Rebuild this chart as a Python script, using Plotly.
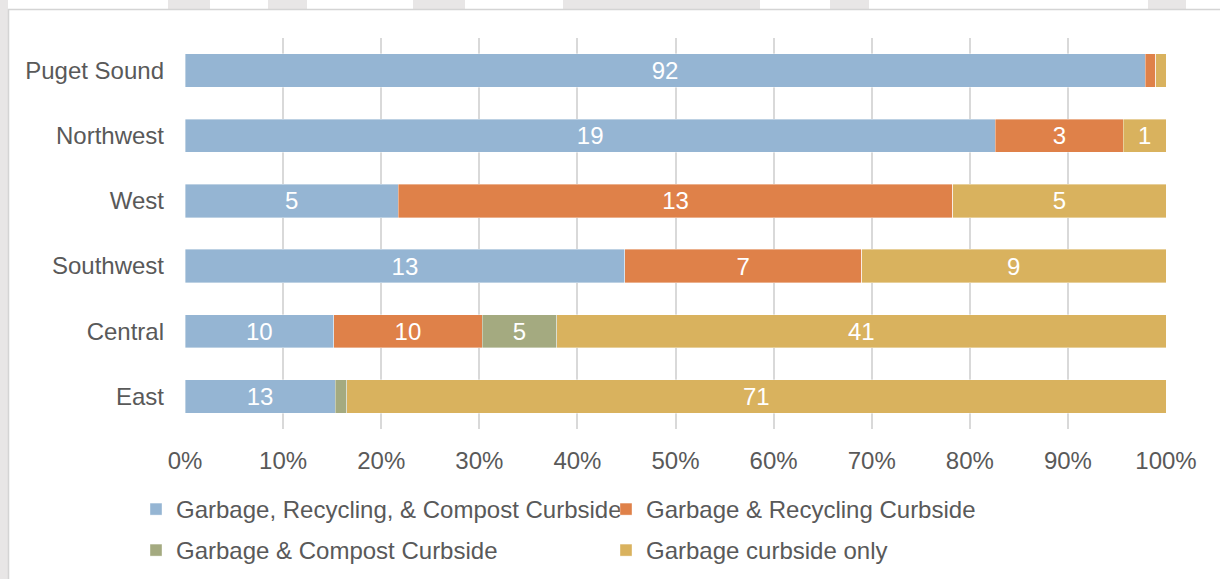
import plotly.graph_objects as go

# ---- data ----
regions = ["Puget Sound", "Northwest", "West", "Southwest", "Central", "East"]
series_names = [
    "Garbage, Recycling, & Compost Curbside",
    "Garbage & Recycling Curbside",
    "Garbage & Compost Curbside",
    "Garbage curbside only",
]
grc = [92, 19, 5, 13, 10, 13]
gr = [1, 3, 13, 7, 10, 0]
gc = [0, 0, 0, 0, 5, 1]
g_only = [1, 1, 5, 9, 41, 71]
tick_vals = [0, 0.1, 0.2, 0.3, 0.4, 0.5, 0.6, 0.7, 0.8, 0.9, 1.0]
tick_text = ["0%", "10%", "20%", "30%", "40%", "50%", "60%", "70%", "80%", "90%", "100%"]

colors = ["#95B5D3", "#DF8149", "#A4AA80", "#D9B25E"]
legend_ids = ["legend", "legend", "legend2", "legend2"]

W, H = 1220, 579
L, R, T, B = 185, 54, 38, 150
PW, PH = W - L - R, H - T - B
FS = 24
FONT = "Liberation Sans, Arial"

series = [grc, gr, gc, g_only]
totals = [sum(s[i] for s in series) for i in range(len(regions))]

fig = go.Figure()
for name, vals, col, lg in zip(series_names, series, colors, legend_ids):
    shares = [v / t for v, t in zip(vals, totals)]
    labels = [str(v) if sh >= 0.03 else "" for v, sh in zip(vals, shares)]
    fig.add_trace(go.Bar(
        y=regions, x=shares, name=name, orientation="h", legend=lg,
        marker=dict(color=col, line=dict(width=0.75, color="rgba(255,255,255,0.5)")),
        text=labels, textposition="inside", insidetextanchor="middle", textangle=0,
        textfont=dict(color="white", size=FS, family=FONT),
        constraintext="none", hoverinfo="skip",
    ))


def px2x(px):
    return (px - L) / PW


def px2y(py):
    return 1 - (py - T) / PH


shapes = []
# light gray page strip at left and watermark fragments at top
shapes.append(dict(type="rect", xref="paper", yref="paper", layer="below",
                   x0=px2x(0), x1=px2x(8), y0=px2y(H), y1=px2y(0),
                   fillcolor="#E8E6E6", line=dict(width=0)))
for a, b in [(168, 210), (268, 307), (413, 465), (563, 760), (830, 869), (1148, 1186)]:
    shapes.append(dict(type="rect", xref="paper", yref="paper", layer="below",
                       x0=px2x(a), x1=px2x(b), y0=px2y(9), y1=px2y(0),
                       fillcolor="#E8E6E6", line=dict(width=0)))
# chart border
shapes.append(dict(type="line", xref="paper", yref="paper", layer="below",
                   x0=px2x(8), x1=px2x(W), y0=px2y(9.5), y1=px2y(9.5),
                   line=dict(color="#D4D4D4", width=1.5)))
shapes.append(dict(type="line", xref="paper", yref="paper", layer="below",
                   x0=px2x(8.5), x1=px2x(8.5), y0=px2y(9), y1=px2y(H),
                   line=dict(color="#D4D4D4", width=1.5)))

legend_common = dict(orientation="h", xanchor="left", yanchor="top",
                     xref="container", yref="container",
                     entrywidth=425, entrywidthmode="pixels", traceorder="normal",
                     font=dict(size=FS, color="#595959", family=FONT),
                     bgcolor="rgba(0,0,0,0)")

fig.update_layout(
    width=W, height=H,
    margin=dict(l=L, r=R, t=T, b=B, pad=0),
    barmode="stack", bargap=0.49,
    paper_bgcolor="white", plot_bgcolor="white",
    font=dict(family=FONT, size=FS, color="#595959"),
    shapes=shapes,
    xaxis=dict(range=[0, 1], tickvals=tick_vals, ticktext=tick_text,
               showgrid=True, gridcolor="#D9D9D9", gridwidth=2,
               zeroline=False, showline=False, ticks="", ticklabelstandoff=15,
               tickfont=dict(size=FS, color="#595959")),
    yaxis=dict(categoryorder="array", categoryarray=regions, autorange="reversed",
               showgrid=False, zeroline=False, showline=False, ticks="",
               ticklabelstandoff=20, tickfont=dict(size=FS, color="#595959")),
    legend=dict(x=136 / W, y=1 - 487 / H, **legend_common),
    legend2=dict(x=136 / W, y=1 - 528 / H, **legend_common),
    showlegend=True,
)

fig.write_html("out.html")
